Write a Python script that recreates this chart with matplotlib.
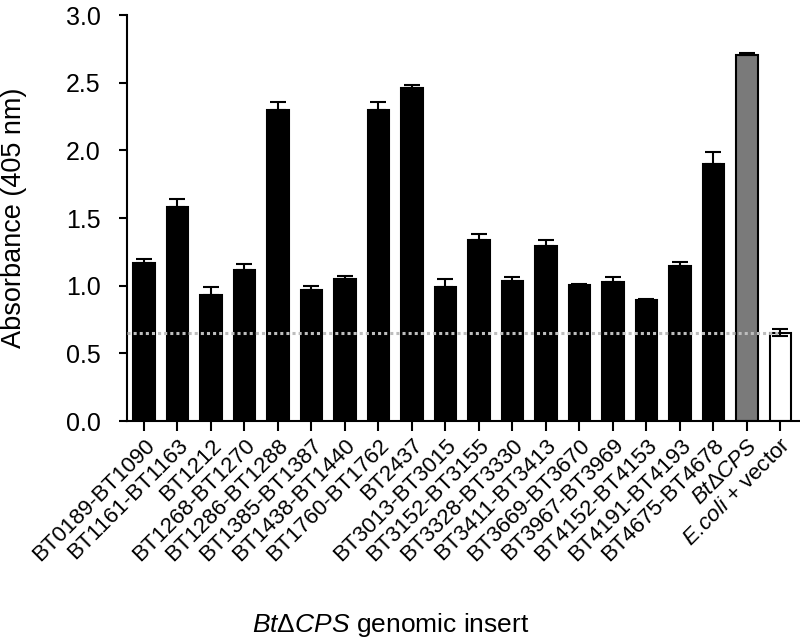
import numpy as np
import matplotlib
matplotlib.use("Agg")
import matplotlib.pyplot as plt

plt.rcParams["font.family"] = ["Liberation Sans", "DejaVu Sans"]
plt.rcParams["mathtext.fontset"] = "custom"
plt.rcParams["mathtext.rm"] = "Liberation Sans"
plt.rcParams["mathtext.it"] = "Liberation Sans:italic"

# data
labels = ["BT0189-BT1090", "BT1161-BT1163", "BT1212", "BT1268-BT1270",
          "BT1286-BT1288", "BT1385-BT1387", "BT1438-BT1440", "BT1760-BT1762",
          "BT2437", "BT3013-BT3015", "BT3152-BT3155", "BT3328-BT3330",
          "BT3411-BT3413", "BT3669-BT3670", "BT3967-BT3969", "BT4152-BT4153",
          "BT4191-BT4193", "BT4675-BT4678", r"$\mathit{BtΔCPS}$",
          r"$\mathit{E.\!coli}$ + vector"]
means = [1.165, 1.584, 0.93, 1.114, 2.30, 0.968, 1.052, 2.30, 2.459,
         0.99, 1.338, 1.037, 1.296, 1.003, 1.025, 0.892, 1.148, 1.902,
         2.707, 0.653]
errors = [0.035, 0.056, 0.058, 0.044, 0.06, 0.03, 0.02, 0.06, 0.021,
          0.057, 0.044, 0.025, 0.039, 0.009, 0.037, 0.008, 0.025, 0.086,
          0.01, 0.025]
baseline = 0.653  # E. coli + vector level

colors = ["black"] * 18 + ["#7a7a7a", "white"]

fig = plt.figure(figsize=(8, 6.42), dpi=100)
ax = fig.add_axes([0.159, 0.3442, 0.840, 0.6324])

x = np.arange(len(means))
ax.bar(x, means, width=0.65, color=colors, edgecolor="black", linewidth=1.5, zorder=2)

# one-sided error bars for the inserts, two-sided for the control
lower = [0] * 19 + [errors[-1]]
ax.errorbar(x, means, yerr=[lower, errors], fmt="none", ecolor="black",
            elinewidth=1.5, capsize=6, capthick=1.5, zorder=3)

ax.plot([-0.5, len(means) - 1], [baseline, baseline], linestyle=(0, (1, 1)),
        color="#bdbdbd", linewidth=2.2, zorder=4)

ax.set_xlim(-0.5, 19.56)
ax.set_ylim(0, 3.0)
ax.set_yticks(np.arange(0, 3.01, 0.5))
ax.set_yticklabels([f"{v:.1f}" for v in np.arange(0, 3.01, 0.5)], fontsize=18)
ax.set_xticks(x)
ax.set_xticklabels(labels, rotation=45, ha="right", rotation_mode="anchor", fontsize=16)

for side in ["top", "right"]:
    ax.spines[side].set_visible(False)
for side in ["left", "bottom"]:
    ax.spines[side].set_linewidth(1.5)
ax.tick_params(axis="both", width=1.5, direction="out")
ax.tick_params(axis="y", length=6, pad=13)
ax.tick_params(axis="x", length=7, pad=3)

fig.text(0.0175, 0.66, "Absorbance (405 nm)", rotation=90, fontsize=19.5,
         ha="center", va="center")
fig.text(0.488, 0.0156, r"$\mathit{BtΔCPS}$ genomic insert", fontsize=19,
         ha="center", va="baseline")

fig.savefig("out.png", dpi=100)
